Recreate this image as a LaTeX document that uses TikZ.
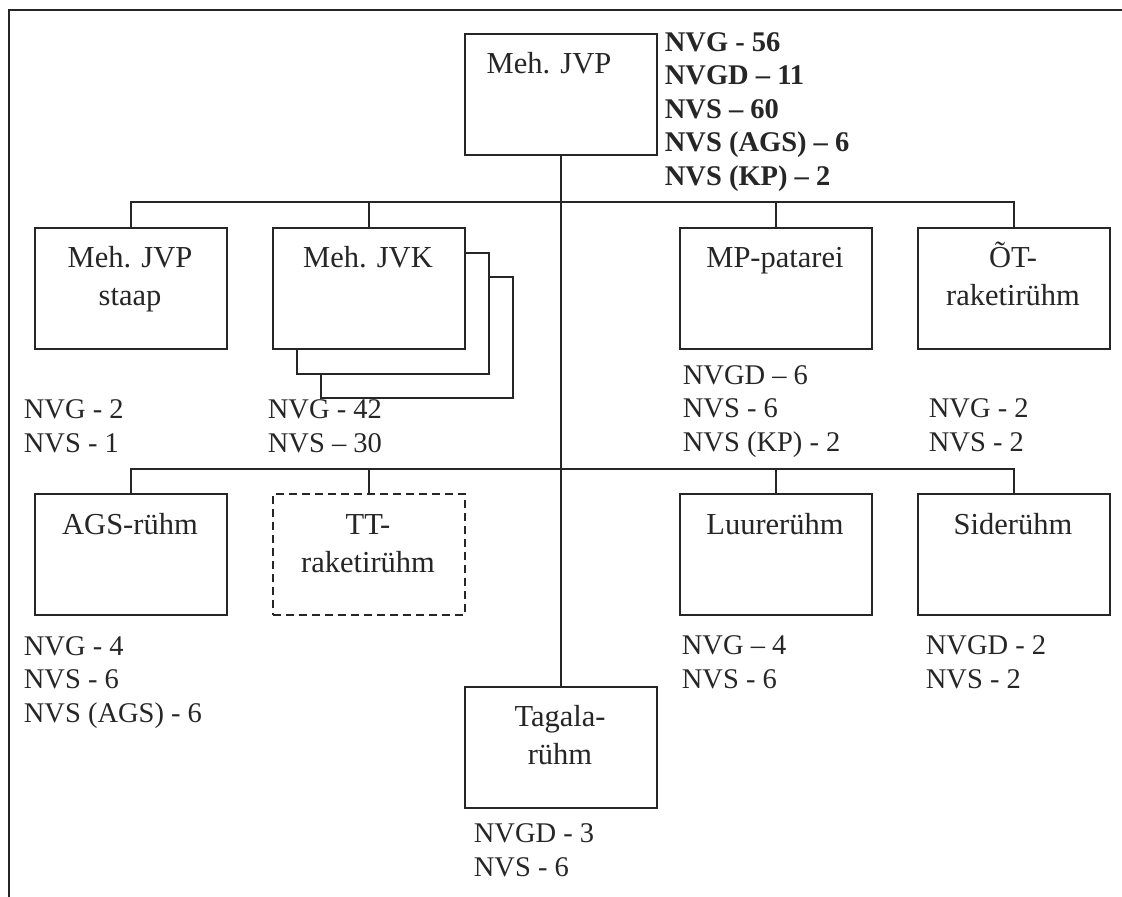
\documentclass[tikz,border=0pt]{standalone}
\usepackage{fontspec}
\setmainfont{Liberation Serif}
\usetikzlibrary{positioning}
\begin{document}
\begin{tikzpicture}[x=1pt,y=-1pt,line width=1.8pt,black!85,
  unit/.style={draw,fill=white,minimum width=192pt,minimum height=121pt,anchor=north west,inner sep=0pt},
  title/.style={font=\fontsize{30.5}{38}\selectfont,align=center,inner sep=0pt,anchor=base},
  staff/.style={font=\fontsize{28.5}{33.5}\selectfont,align=left,inner sep=0pt,anchor=base west},
  lead/.style={staff,font=\fontsize{28.5}{33.5}\selectfont\bfseries},
  planned/.style={dash pattern=on 8pt off 5pt}]
\useasboundingbox (0,0) rectangle (1122,897);
\draw (9,897) -- (9,10) -- (1122,10);
\node[unit] (jvp) at (464,33) {};
\node[title] (jvpT) at (549,73) {Meh. JVP};
\node[lead] (jvpN) at (664,185) {NVG - 56\\NVGD -- 11\\NVS -- 60\\NVS (AGS) -- 6\\NVS (KP) -- 2};
\node[unit] (staap) at (34,227) {};
\node[title] (staapT) at (130,305) {Meh. JVP\\staap};
\node[unit] (jvk3) at (320,276) {};
\node[unit] (jvk2) at (296,252) {};
\node[unit] (jvk) at (272,227) {};
\node[title] (jvkT) at (368,267) {Meh. JVK};
\node[unit] (mp) at (679,227) {};
\node[title] (mpT) at (775,267) {MP-patarei};
\node[unit] (ot) at (917,227) {};
\node[title] (otT) at (1013,305) {ÕT-\\raketirühm};
\node[staff] (staapN) at (23,452) {NVG - 2\\NVS - 1};
\node[staff] (jvkN) at (267,452) {NVG - 42\\NVS -- 30};
\node[staff] (mpN) at (682,451) {NVGD -- 6\\NVS - 6\\NVS (KP) - 2};
\node[staff] (otN) at (928,451) {NVG - 2\\NVS - 2};
\node[unit] (ags) at (34,493) {};
\node[title] (agsT) at (130,534) {AGS-rühm};
\node[unit,planned] (tt) at (272,493) {};
\node[title] (ttT) at (368,572) {TT-\\raketirühm};
\node[unit] (luure) at (679,493) {};
\node[title] (luureT) at (775,534) {Luurerühm};
\node[unit] (side) at (917,493) {};
\node[title] (sideT) at (1013,534) {Siderühm};
\node[staff] (agsN) at (23,722) {NVG - 4\\NVS - 6\\NVS (AGS) - 6};
\node[staff] (luureN) at (681,688) {NVG -- 4\\NVS - 6};
\node[staff] (sideN) at (925,688) {NVGD - 2\\NVS - 2};
\node[unit] (tagala) at (464,686) {};
\node[title] (tagalaT) at (560,764) {Tagala-\\rühm};
\node[staff] (tagalaN) at (473,876) {NVGD - 3\\NVS - 6};
\draw (staap.north) -- ++(0,-25) -| (ot.north);
\draw (jvk.north) -- ++(0,-25);
\draw (mp.north) -- ++(0,-25);
\draw (ags.north) -- ++(0,-24) -| (side.north);
\draw (tt.north) -- ++(0,-24);
\draw (luure.north) -- ++(0,-24);
\draw (jvp.south) -- (tagala.north);
\end{tikzpicture}
\end{document}
